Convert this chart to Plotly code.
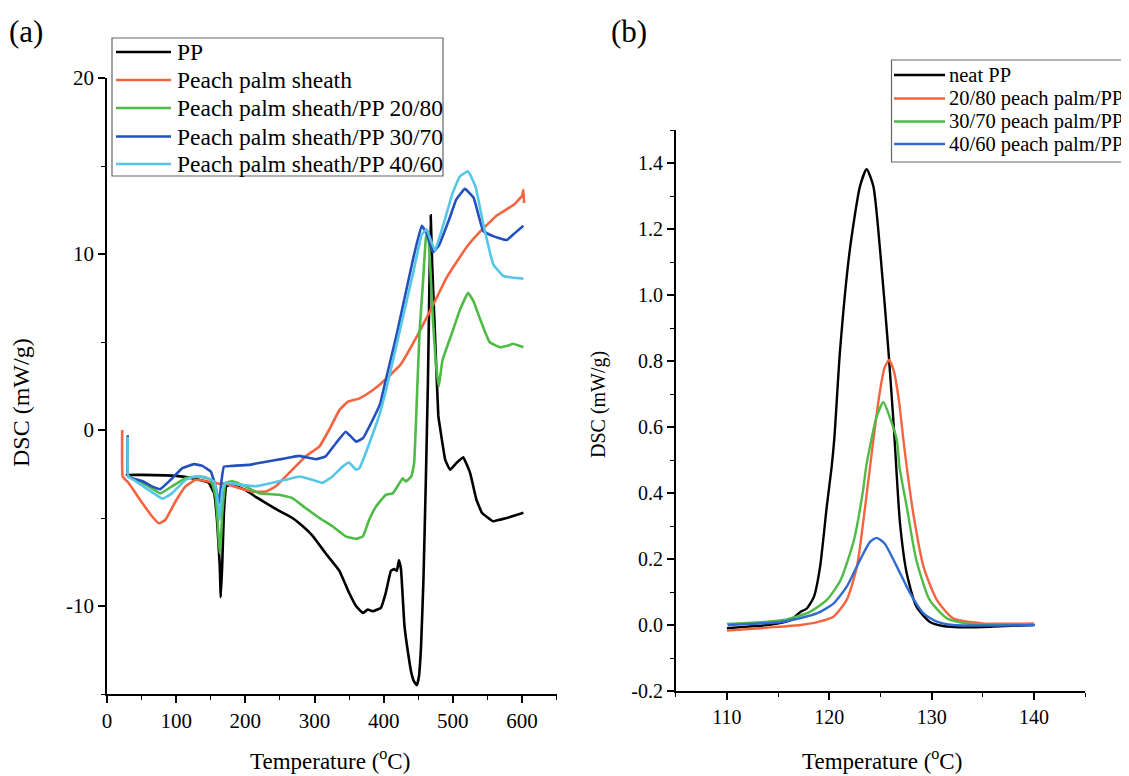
import plotly.graph_objects as go

# ---------------- Panel (a) data ----------------
pp_T = [28, 29, 50, 85, 110, 133, 147, 155, 159, 163, 164.5, 166.5, 169, 172.5, 179, 200, 215, 230, 249, 268,
        278, 297, 316, 336, 350, 360, 370, 377, 384, 396, 403, 410.5, 415, 419, 422, 425, 430, 435, 440, 444,
        448, 451, 454, 457.5, 461, 464, 466, 468, 470, 474, 479, 482, 489, 496, 505, 515, 525, 534, 542, 558,
        578, 602]
pp_v = [-2.5, -2.55, -2.55, -2.58, -2.65, -2.83, -3.0, -3.6, -5.1, -7.7, -9.5, -7.7, -4.7, -3.2, -3.1, -3.4,
        -3.8, -4.15, -4.6, -5.0, -5.3, -6.0, -7.0, -8.0, -9.25, -10.0, -10.4, -10.2, -10.3, -10.1, -9.25, -8.0,
        -7.9, -8.0, -7.4, -7.9, -11.1, -12.6, -13.8, -14.3, -14.5, -14.0, -12.3, -8.5, -2.8, 2.8, 8.0, 12.2,
        9.5, 5.6, 0.8, 0.0, -1.7, -2.26, -1.88, -1.55, -2.45, -3.95, -4.7, -5.18, -5.0, -4.7]

pps_T = [22, 22.7, 31, 51, 65, 75, 84.5, 99, 113.5, 128, 142.5, 154.6, 162, 171.5, 191, 210, 229.5, 244, 263,
         287, 307, 321, 336, 348, 365, 384, 395, 424, 452.5, 472, 491, 520, 540, 564, 588, 600, 602, 603]
pps_v = [0, -2.64, -3.0, -4.15, -4.9, -5.3, -5.1, -4.06, -3.2, -2.83, -2.9, -3.0, -3.05, -3.05, -3.3, -3.5,
         -3.5, -3.2, -2.45, -1.5, -0.94, 0, 1.13, 1.6, 1.8, 2.26, 2.6, 3.7, 5.65, 7.15, 8.66, 10.4, 11.3, 12.2,
         12.8, 13.3, 13.65, 12.9]

g20_T = [30, 41, 60, 77, 94, 113.5, 133, 150, 157, 160, 162.8, 165, 166.7, 171.5, 181, 200, 220, 249, 268, 287,
         307, 326, 345, 360, 370, 379, 389, 403, 413, 420, 427.5, 432, 440, 444, 449, 452, 457, 461, 464, 467,
         471, 475, 479.6, 485, 500, 510, 522, 530, 538.5, 553, 568, 580, 587, 595, 602]
g20_v = [-2.6, -2.83, -3.2, -3.6, -3.2, -2.74, -2.64, -2.83, -3.77, -5.2, -7.0, -6.0, -4.7, -3.0, -2.92, -3.2,
         -3.6, -3.68, -3.87, -4.43, -5.0, -5.47, -6.04, -6.19, -6.04, -5.1, -4.34, -3.68, -3.6, -3.2, -2.74,
         -2.92, -2.64, -1.89, 2.8, 5.65, 8.5, 10.9, 11.3, 9.5, 6.4, 4.0, 2.46, 3.96, 5.65, 6.8, 7.8, 7.3, 6.4,
         5.0, 4.7, 4.8, 4.9, 4.8, 4.7]

b30_T = [30, 30.5, 50.7, 65, 77, 92, 109, 126, 138, 150, 157, 161.8, 165.7, 169, 181, 205, 230, 254, 278, 302,
         316, 331, 345, 353, 360, 370, 384, 395, 401, 419, 443, 455, 462, 471, 480, 495, 505, 517.5, 530, 544,
         559, 578, 590, 602]
b30_v = [-0.3, -2.64, -2.9, -3.2, -3.36, -2.83, -2.17, -1.94, -2.04, -2.36, -3.2, -4.15, -2.83, -2.08, -2.04,
         -1.98, -1.8, -1.64, -1.47, -1.66, -1.5, -0.75, -0.1, -0.38, -0.66, -0.47, 0.57, 1.5, 2.5, 5.46, 9.8,
         11.6, 11.2, 10.1, 10.5, 12.0, 13.1, 13.7, 13.2, 11.3, 11.0, 10.8, 11.2, 11.6]

c40_T = [30, 30.5, 41, 60, 80, 94, 113.5, 128, 142.5, 154.6, 159.4, 162.8, 166.7, 171.5, 191, 215, 239, 258,
         278, 297, 311.6, 326, 340.6, 350, 360, 365, 374, 389, 395, 403, 419, 443, 455, 462, 474, 485, 500,
         510, 522, 533, 544, 558.6, 573, 587.5, 602]
c40_v = [-0.4, -2.64, -2.9, -3.4, -3.9, -3.6, -2.83, -2.64, -2.68, -2.92, -3.77, -5.1, -3.4, -3.0, -3.1, -3.2,
         -3.0, -2.83, -2.64, -2.83, -3.0, -2.64, -2.08, -1.85, -2.26, -2.17, -1.32, 0.3, 1.0, 2.2, 4.9, 9.0,
         11.1, 11.4, 10.2, 11.5, 13.5, 14.4, 14.7, 13.8, 11.7, 9.4, 8.75, 8.65, 8.6]

# ---------------- Panel (b) data ----------------
neat_T = [110, 112, 114, 116.2, 117.2, 117.8, 118.5, 119.1, 119.75, 120.23, 120.5, 121.05, 122.0, 123.0,
          123.65, 124.3, 124.96, 125.77, 126.3, 126.9, 127.56, 128.5, 129.8, 131.1, 133.4, 136, 140]
neat_v = [-0.01, -0.005, 0, 0.015, 0.04, 0.05, 0.086, 0.177, 0.359, 0.48, 0.57, 0.833, 1.136, 1.33, 1.381,
          1.33, 1.136, 0.833, 0.60, 0.31, 0.157, 0.056, 0.01, -0.003, -0.007, -0.005, 0]

r20_T = [110, 114, 117.2, 119, 120.4, 121.7, 122.7, 123.5, 123.98, 124.3, 124.9, 125.4, 125.84, 126.3, 126.8,
         127.24, 127.6, 128.2, 129.2, 130.5, 132.1, 135, 140]
r20_v = [-0.017, -0.008, 0, 0.01, 0.025, 0.076, 0.177, 0.359, 0.48, 0.56, 0.70, 0.78, 0.803, 0.77, 0.68, 0.56,
         0.47, 0.338, 0.177, 0.076, 0.02, 0.005, 0.005]

g30_T = [110, 115.5, 118.1, 119.76, 121.1, 122.4, 123.3, 123.6, 124.1, 124.6, 125.28, 125.9, 126.6, 126.85,
         127.56, 128.5, 129.8, 131.5, 133.4, 140]
g30_v = [0.003, 0.015, 0.04, 0.076, 0.136, 0.257, 0.409, 0.48, 0.56, 0.63, 0.675, 0.63, 0.56, 0.48, 0.359,
         0.197, 0.076, 0.02, 0.005, 0.002]

b40_T = [110.1, 115.5, 118.77, 120.4, 121.7, 123.0, 123.98, 124.63, 125.4, 126.6, 127.9, 129.2, 130.5, 132.1,
         140.1]
b40_v = [0.0, 0.01, 0.035, 0.065, 0.116, 0.197, 0.252, 0.264, 0.247, 0.177, 0.096, 0.035, 0.01, 0.0, 0.0]

names_a = ["PP", "Peach palm sheath", "Peach palm sheath/PP 20/80", "Peach palm sheath/PP 30/70",
           "Peach palm sheath/PP 40/60"]
names_b = ["neat PP", "20/80 peach palm/PP", "30/70 peach palm/PP", "40/60 peach palm/PP"]

colors_a = ["#000000", "#F4643F", "#4DBB45", "#2450BE", "#55C5E8"]
colors_b = ["#000000", "#F4643F", "#4DBB45", "#2F6BD0"]

FONT = "Liberation Serif"
OFF = 8                      # default page margin of the HTML body
W, H = 1129 - OFF, 776 - OFF


def px_x(p):
    return (p - OFF) / W


def px_y(p):
    return 1 - (p - OFF) / H


fig = go.Figure()

series_a = [(pp_T, pp_v), (pps_T, pps_v), (g20_T, g20_v), (b30_T, b30_v), (c40_T, c40_v)]
for (t, v), n, c in zip(series_a, names_a, colors_a):
    fig.add_trace(go.Scatter(x=t, y=v, name=n, mode="lines",
                             line=dict(color=c, width=2.6, shape="spline", smoothing=0.3),
                             xaxis="x", yaxis="y", showlegend=False))

series_b = [(neat_T, neat_v), (r20_T, r20_v), (g30_T, g30_v), (b40_T, b40_v)]
for (t, v), n, c in zip(series_b, names_b, colors_b):
    fig.add_trace(go.Scatter(x=t, y=v, name=n, mode="lines",
                             line=dict(color=c, width=2.4, shape="spline", smoothing=0.6),
                             xaxis="x2", yaxis="y2", showlegend=False))

minor_style = dict(ticks="outside", ticklen=4, tickwidth=1.4, tickcolor="black")
axis_common = dict(showline=True, linecolor="black", linewidth=1.6, ticks="outside", ticklen=7,
                   tickwidth=1.6, tickcolor="black", showgrid=False, zeroline=False, mirror=False,
                   automargin=False, tickfont=dict(family=FONT, size=21, color="black"))

fig.update_layout(
    width=W, height=H,
    margin=dict(l=0, r=0, t=0, b=0, autoexpand=False),
    paper_bgcolor="white", plot_bgcolor="white",
    font=dict(family=FONT, color="black"),
    showlegend=False,
    xaxis=dict(axis_common, domain=[px_x(107), px_x(556.6)], range=[0, 650],
               tickvals=[0, 100, 200, 300, 400, 500, 600],
               minor=dict(minor_style, dtick=50, tick0=0), anchor="y"),
    yaxis=dict(axis_common, domain=[px_y(694), px_y(78)], range=[-15, 20],
               tickvals=[-10, 0, 10, 20], ticktext=["-10", "0", "10", "20"],
               minor=dict(minor_style, dtick=5, tick0=0), anchor="x"),
    xaxis2=dict(axis_common, domain=[px_x(675.8), px_x(1085.2)], range=[105, 145],
                tickvals=[110, 120, 130, 140],
                minor=dict(minor_style, dtick=5, tick0=105), anchor="y2",
                tickfont=dict(family=FONT, size=20, color="black")),
    yaxis2=dict(axis_common, domain=[px_y(691), px_y(130)], range=[-0.2, 1.5],
                tickvals=[-0.2, 0, 0.2, 0.4, 0.6, 0.8, 1.0, 1.2, 1.4],
                ticktext=["-0.2", "0.0", "0.2", "0.4", "0.6", "0.8", "1.0", "1.2", "1.4"],
                minor=dict(minor_style, dtick=0.1, tick0=0), anchor="x2",
                tickfont=dict(family=FONT, size=20, color="black")),
)

shapes = []
annotations = []

# Manual legend (a)
shapes.append(dict(type="rect", xref="paper", yref="paper", x0=px_x(112), x1=px_x(443), y0=px_y(176),
                   y1=px_y(38), line=dict(color="#666666", width=1.2), fillcolor="white", layer="above"))
rows_a = [52, 80, 108, 136.5, 164]
for ry, n, c in zip(rows_a, names_a, colors_a):
    shapes.append(dict(type="line", xref="paper", yref="paper", x0=px_x(116), x1=px_x(171), y0=px_y(ry),
                       y1=px_y(ry), line=dict(color=c, width=2.6), layer="above"))
    annotations.append(dict(text=n, x=px_x(175), y=px_y(ry), xanchor="left", yanchor="middle",
                            font=dict(size=23.5)))

# Manual legend (b)
shapes.append(dict(type="rect", xref="paper", yref="paper", x0=px_x(891.5), x1=px_x(1140), y0=px_y(162),
                   y1=px_y(60), line=dict(color="#666666", width=1.2), fillcolor="white", layer="above"))
rows_b = [75, 98.5, 121.5, 144]
for ry, n, c in zip(rows_b, names_b, colors_b):
    shapes.append(dict(type="line", xref="paper", yref="paper", x0=px_x(894), x1=px_x(945), y0=px_y(ry),
                       y1=px_y(ry), line=dict(color=c, width=2.4), layer="above"))
    annotations.append(dict(text=n, x=px_x(947), y=px_y(ry), xanchor="left", yanchor="middle",
                            font=dict(size=20.5)))

annotations += [
    dict(text="(a)", x=px_x(7), y=px_y(12), xanchor="left", yanchor="top", font=dict(size=31)),
    dict(text="(b)", x=px_x(609), y=px_y(12), xanchor="left", yanchor="top", font=dict(size=31)),
    dict(text="DSC (mW/g)", x=px_x(21), y=px_y(403), textangle=-90, xanchor="center", yanchor="middle",
         font=dict(size=24)),
    dict(text="DSC (mW/g)", x=px_x(598), y=px_y(405), textangle=-90, xanchor="center", yanchor="middle",
         font=dict(size=20)),
    dict(text="Temperature (<sup>o</sup>C)", x=px_x(330), y=px_y(776), xanchor="center", yanchor="bottom",
         font=dict(size=23)),
    dict(text="Temperature (<sup>o</sup>C)", x=px_x(882), y=px_y(776), xanchor="center", yanchor="bottom",
         font=dict(size=23)),
]
for a in annotations:
    a.update(xref="paper", yref="paper", showarrow=False)
    a["font"].update(family=FONT, color="black")

fig.update_layout(shapes=shapes, annotations=annotations)

fig.write_html("out.html")
